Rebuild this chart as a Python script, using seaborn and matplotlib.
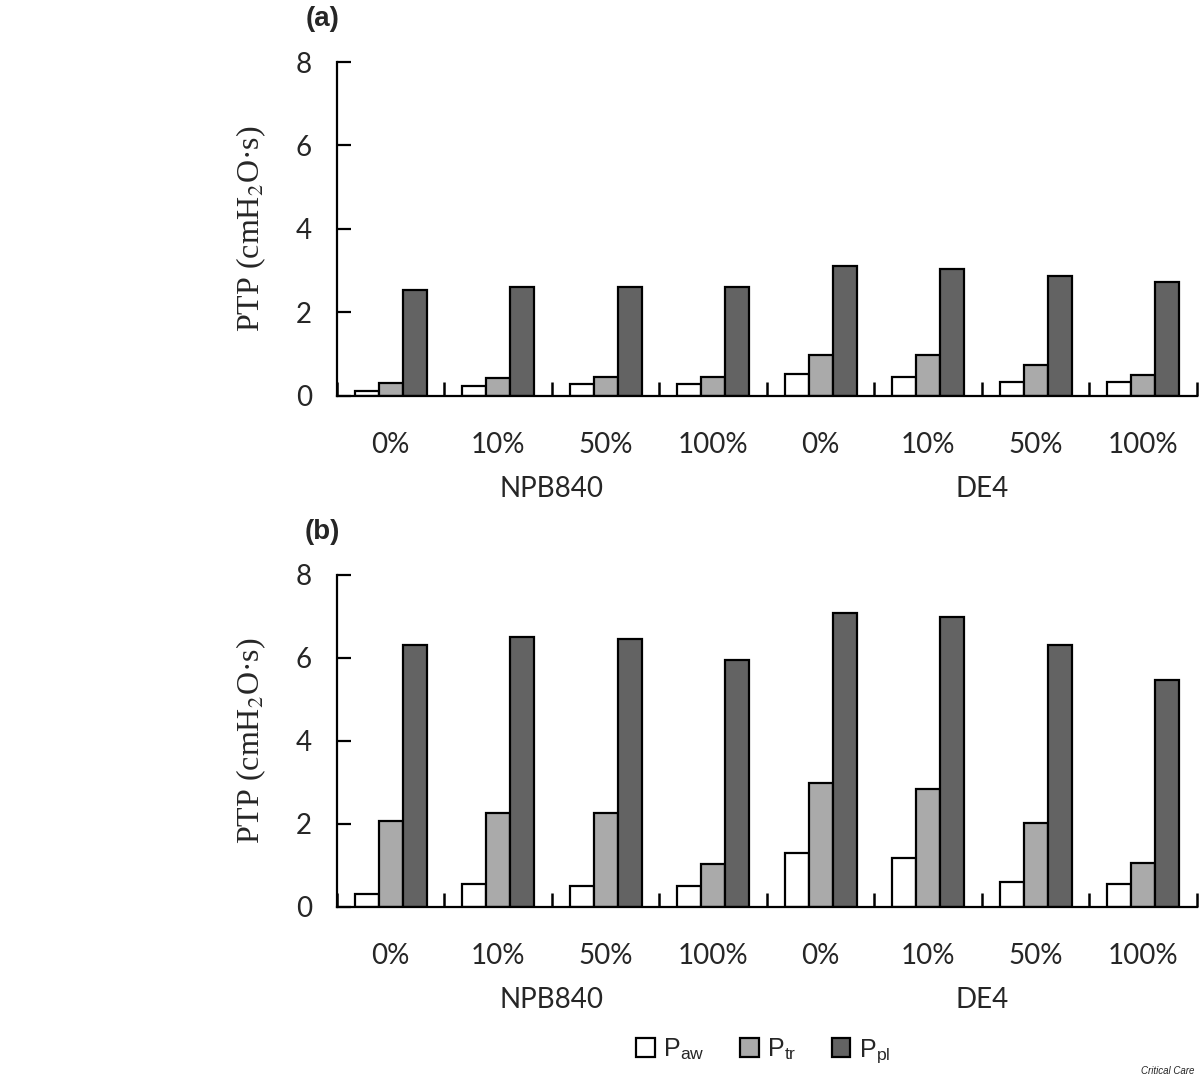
import pandas as pd
import numpy as np
import matplotlib
matplotlib.use("Agg")
import matplotlib.pyplot as plt
import matplotlib.patches as mpatches
import matplotlib.transforms as mtransforms
import seaborn as sns

# data
groups = ["0%", "10%", "50%", "100%", "0%", "10%", "50%", "100%"]
ventilators = ["NPB840", "DE4"]
series = ["Paw", "Ptr", "Ppl"]
series_labels = [r"P$_{\mathregular{aw}}$", r"P$_{\mathregular{tr}}$", r"P$_{\mathregular{pl}}$"]
colors = ["#ffffff", "#aaaaaa", "#636363"]

paw_a = [0.13, 0.23, 0.28, 0.28, 0.52, 0.46, 0.33, 0.33]
ptr_a = [0.32, 0.42, 0.46, 0.46, 0.99, 0.99, 0.75, 0.51]
ppl_a = [2.55, 2.60, 2.60, 2.60, 3.12, 3.03, 2.88, 2.74]

paw_b = [0.32, 0.56, 0.51, 0.51, 1.31, 1.17, 0.61, 0.56]
ptr_b = [2.08, 2.27, 2.27, 1.04, 2.99, 2.85, 2.03, 1.07]
ppl_b = [6.32, 6.51, 6.46, 5.95, 7.08, 6.99, 6.32, 5.47]


def make_df(paw, ptr, ppl):
    keys = [f"{ventilators[i // 4]} {g}" for i, g in enumerate(groups)]
    rows = []
    for name, vals in zip(series, [paw, ptr, ppl]):
        for k, v in zip(keys, vals):
            rows.append({"cond": k, "series": name, "ptp": v})
    return pd.DataFrame(rows), keys


sns.set_style("white")
plt.rcParams["font.family"] = ["Lato", "DejaVu Sans"]
plt.rcParams["mathtext.fontset"] = "stix"

fig = plt.figure(figsize=(12, 10.84), dpi=100)
ax_a = fig.add_axes([0.2808, 0.6347, 0.7167, 0.3081])
ax_b = fig.add_axes([0.2808, 0.1633, 0.7167, 0.3063])

for ax, data, tag in [(ax_a, (paw_a, ptr_a, ppl_a), "(a)"), (ax_b, (paw_b, ptr_b, ppl_b), "(b)")]:
    df, keys = make_df(*data)
    sns.barplot(data=df, x="cond", y="ptp", hue="series", order=keys, hue_order=series,
                palette=colors, width=0.67, edgecolor="black", linewidth=1.6,
                saturation=1, ax=ax, legend=False)
    ax.set_xlim(-0.5, 7.5)
    ax.set_ylim(0, 8)
    ax.set_yticks([0, 2, 4, 6, 8])
    ax.set_xticks(range(8))
    ax.set_xticklabels(groups, fontsize=20)
    ax.set_xticks(np.arange(-0.5, 8, 1), minor=True)
    ax.tick_params(axis="x", which="major", bottom=True, length=0, pad=26)
    ax.tick_params(axis="x", which="minor", bottom=True, direction="in", length=10, width=1.8,
                   color="black")
    ax.tick_params(axis="y", left=True, direction="in", length=10, width=1.6, color="black",
                   labelsize=20, pad=18)
    ax.set_xlabel("")
    ax.set_ylabel(r"PTP (cmH$_2$O·s)", family="Liberation Serif", fontsize=23, labelpad=20)
    for s in ["top", "right"]:
        ax.spines[s].set_visible(False)
    for s in ["left", "bottom"]:
        ax.spines[s].set_linewidth(1.6)
        ax.spines[s].set_color("black")
    trans = mtransforms.blended_transform_factory(ax.transData, ax.transAxes)
    ax.text(1.5, -0.28, ventilators[0], transform=trans, ha="center", va="center", fontsize=20)
    ax.text(5.5, -0.28, ventilators[1], transform=trans, ha="center", va="center", fontsize=20)
    ax.text(-0.017, 1.13, tag, transform=ax.transAxes, ha="center", va="center",
            fontsize=20, fontweight="bold", family="Liberation Sans")

handles = [mpatches.Patch(facecolor=c, edgecolor="black", linewidth=1.6) for c in colors]
fig.legend(handles, series_labels, loc="center", bbox_to_anchor=(0.636, 0.031), ncol=3,
           frameon=False, prop={"family": "Liberation Sans", "size": 18},
           handlelength=0.75, handleheight=0.75, handletextpad=0.35, columnspacing=1.4)

fig.text(0.973, 0.007, "Critical Care", ha="center", va="bottom", fontsize=7,
         style="italic", family="Liberation Sans")

plt.savefig("out.png", dpi=100)
